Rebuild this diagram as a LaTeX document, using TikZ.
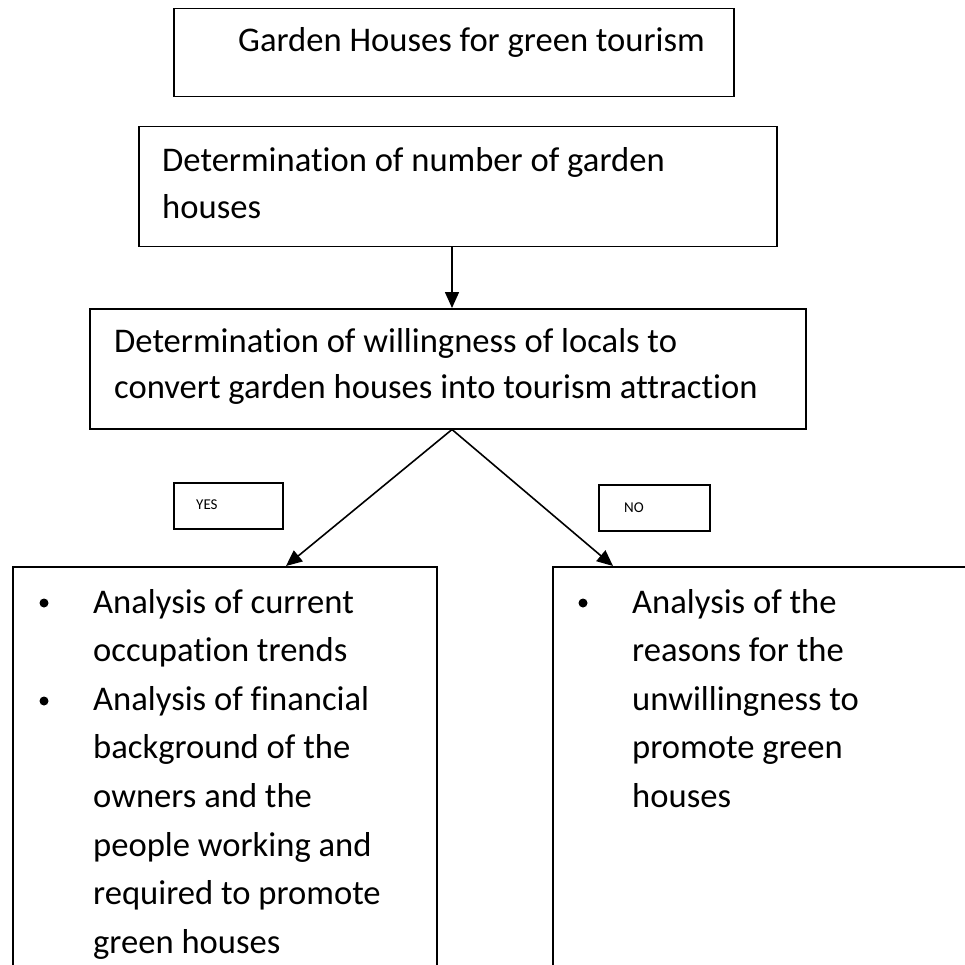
\documentclass[tikz,border=0pt]{standalone}
\usepackage{fontspec}
\setmainfont{Carlito}[Ligatures=NoCommon]
\usetikzlibrary{arrows.meta}
\begin{document}
\begin{tikzpicture}[x=1pt,y=1pt,
  box/.style={draw=black, line width=1.5pt, anchor=north west, inner sep=0pt},
  txt/.style={anchor=base west, inner sep=0pt, font=\fontsize{34.6}{40}\selectfont},
  small/.style={anchor=base west, inner sep=0pt, font=\fontsize{15}{17}\selectfont},
  arr/.style={line width=1.6pt, -{Triangle[length=16pt,width=14pt]}},
  bul/.style={circle, fill=black, inner sep=0pt, minimum size=9pt}]
\useasboundingbox (0,0) rectangle (964,-965);
% boxes
\node[box, minimum width=560pt, minimum height=88pt] (b1) at (173,-8) {};
\node[box, minimum width=638pt, minimum height=120pt] (b2) at (138,-126) {};
\node[box, minimum width=716pt, minimum height=120pt] (b3) at (89,-308) {};
\node[box, minimum width=109pt, minimum height=46pt] (yes) at (173,-482) {};
\node[box, minimum width=111pt, minimum height=46pt] (no) at (598,-484) {};
\node[box, minimum width=424pt, minimum height=440pt] (bl) at (12,-566) {};
\node[box, minimum width=440pt, minimum height=440pt] (br) at (552,-566) {};
% texts
\node[txt] (t1) at (238,-52) {Garden Houses for green tourism};
\node[txt] (t2a) at (162,-172) {Determination of number of garden};
\node[txt] (t2b) at (162,-219) {houses};
\node[txt] (t3a) at (114,-352) {Determination of willingness of locals to};
\node[txt] (t3b) at (114,-398) {convert garden houses into tourism attraction};
\node[small] (ty) at (196,-509) {YES};
\node[small] (tn) at (624,-512) {NO};
\foreach \t [count=\i] in {Analysis of current, occupation trends, Analysis of financial, background of the, owners and the, people working and, required to promote, green houses}
  \node[txt] (L\i) at (93,{-613-48.6*(\i-1)}) {\t};
\foreach \t [count=\i] in {Analysis of the, reasons for the, unwillingness to, promote green, houses}
  \node[txt] (R\i) at (632,{-613-48.6*(\i-1)}) {\t};
\node[bul] (bu1) at (44,-603) {};
\node[bul] (bu2) at (44,-701) {};
\node[bul] (bu3) at (583,-603) {};
% connectors
\coordinate (ax) at (452,0);
\draw[arr] (b2.south -| ax) -- (b3.north -| ax);
\draw[arr] (b3.south -| ax) -- ([xshift=274pt]bl.north west);
\draw[arr] (b3.south -| ax) -- ([xshift=61pt]br.north west);
\end{tikzpicture}
\end{document}
